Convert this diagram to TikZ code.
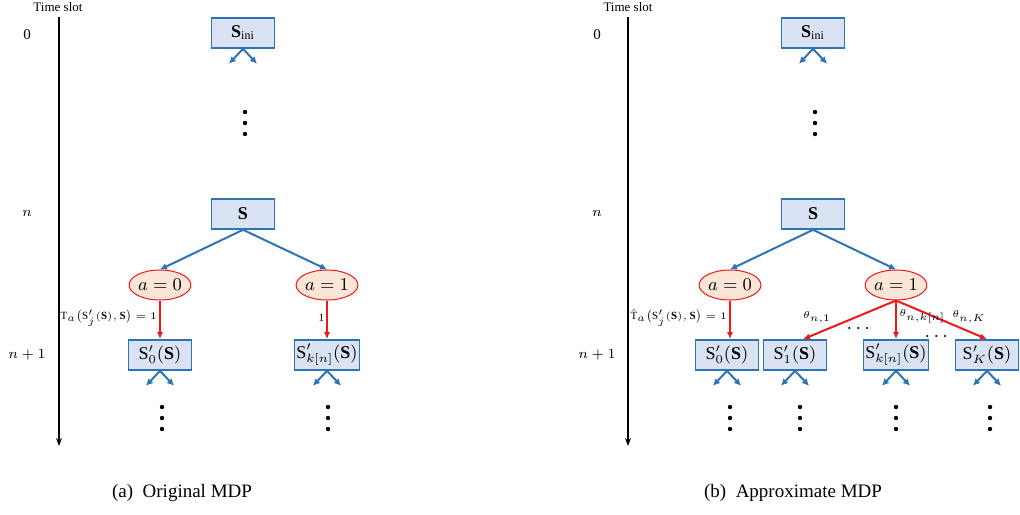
\documentclass[tikz,border=0pt]{standalone}
\usepackage{amsmath}
\usepackage{fontspec}
\setmainfont{Liberation Serif}
\usetikzlibrary{shapes.geometric,arrows.meta}

\definecolor{boxfill}{HTML}{DAE3F3}
\definecolor{boxline}{HTML}{2E75B6}
\definecolor{actfill}{HTML}{FBE5D6}
\definecolor{actred}{HTML}{F01818}

\tikzset{
    state/.style={rectangle, draw=boxline, fill=boxfill, line width=0.8pt,
        minimum width=31.5pt, minimum height=15pt, inner sep=1pt,
        font=\fontsize{9}{10}\selectfont},
    act/.style={ellipse, draw=actred, fill=actfill, line width=0.5pt,
        minimum width=30pt, minimum height=15pt, inner sep=0pt,
        font=\fontsize{9}{10}\selectfont},
    barr/.style={draw=boxline, line width=1pt, -{Latex[length=3.5pt,width=3.5pt]}},
    rarr/.style={draw=actred, line width=1pt, -{Latex[length=3.5pt,width=3pt]}},
    lbl/.style={inner sep=1pt, font=\fontsize{5.5}{6.5}\selectfont},
    slot/.style={font=\fontsize{7.5}{9}\selectfont},
    hdots/.style={inner sep=0pt, font=\fontsize{10}{11}\selectfont},
    captext/.style={font=\fontsize{9.5}{11}\selectfont}
}

% small fork under a state
\newcommand{\forkdown}[1]{%
    \draw[barr] (#1.south) -- ++(-14,15);
    \draw[barr] (#1.south) -- ++(14,15);}
% vertical dots
\newcommand{\dotcol}[2]{%
    \foreach \dy in {0,11,22} \fill (#1,#2+\dy) circle (2.2);}

\begin{document}
\begin{tikzpicture}[x=0.5pt, y=-0.5pt]
    \useasboundingbox (0,0) rectangle (1020,514);

    % ---------- (a) original MDP ----------
    \node[slot, font=\fontsize{6.5}{8}\selectfont] (tsa) at (58,7) {Time slot};
    \coordinate (axa1) at (59,17);
    \coordinate (axa2) at (59,446);
    \draw[line width=0.6pt, -{Stealth[length=4pt,width=3pt]}] (axa1) -- (axa2);
    \node[slot] (t0a) at (27,35) {0};
    \node[slot] (tna) at (27,213) {$n$};
    \node[slot] (tn1a) at (27,355) {$n+1$};

    \node[state] (inia) at (243,33) {$\mathbf{S}_{\mathrm{ini}}$};
    \forkdown{inia}
    \dotcol{245}{112}

    \node[state] (sa) at (243,214) {$\mathbf{S}$};
    \node[act] (a0a) at (160,285) {$a=0$};
    \node[act] (a1a) at (327,285) {$a=1$};
    \node[state] (s0a) at (160,355) {$\mathrm{S}'_0(\mathbf{S})$};
    \node[state] (ska) at (327,355) {$\mathrm{S}'_{k[n]}(\mathbf{S})$};

    \draw[barr] (sa.south) -- (a0a.north);
    \draw[barr] (sa.south) -- (a1a.north);
    \draw[rarr] (a0a) -- node[lbl, left, pos=0.45] {$\mathrm{T}_a\big(\mathrm{S}'_j(\mathbf{S}),\mathbf{S}\big)=1$} (s0a);
    \draw[rarr] (a1a) -- node[lbl, left, pos=0.45] {1} (ska);

    \forkdown{s0a}
    \forkdown{ska}
    \dotcol{162}{407}
    \dotcol{328}{407}

    \node[captext] (capa) at (182,493) {(a)\ \ Original MDP};

    % ---------- (b) approximate MDP ----------
    \node[slot, font=\fontsize{6.5}{8}\selectfont] (tsb) at (628,7) {Time slot};
    \coordinate (axb1) at (628,17);
    \coordinate (axb2) at (628,446);
    \draw[line width=0.6pt, -{Stealth[length=4pt,width=3pt]}] (axb1) -- (axb2);
    \node[slot] (t0b) at (597,35) {0};
    \node[slot] (tnb) at (597,213) {$n$};
    \node[slot] (tn1b) at (597,355) {$n+1$};

    \node[state] (inib) at (813,33) {$\mathbf{S}_{\mathrm{ini}}$};
    \forkdown{inib}
    \dotcol{815}{112}

    \node[state] (sb) at (813,214) {$\mathbf{S}$};
    \node[act] (a0b) at (730,285) {$a=0$};
    \node[act] (a1b) at (896,285) {$a=1$};
    \node[state] (s0b) at (727,355) {$\mathrm{S}'_0(\mathbf{S})$};
    \node[state] (s1b) at (795,355) {$\mathrm{S}'_1(\mathbf{S})$};
    \node[state] (skb) at (896,355) {$\mathrm{S}'_{k[n]}(\mathbf{S})$};
    \node[state] (sKb) at (987,355) {$\mathrm{S}'_K(\mathbf{S})$};

    \draw[barr] (sb.south) -- (a0b.north);
    \draw[barr] (sb.south) -- (a1b.north);
    \draw[rarr] (a0b) -- node[lbl, left, pos=0.45] {$\hat{\mathrm{T}}_a\big(\mathrm{S}'_j(\mathbf{S}),\mathbf{S}\big)=1$} (a0b |- s0b.north);
    \draw[rarr] (a1b.south) -- ([xshift=4]s1b.north);
    \draw[rarr] (a1b) -- (skb);
    \draw[rarr] (a1b.south) -- (sKb.north);

    \node[lbl] (th1) at (817,317) {$\theta_{n,1}$};
    \node[lbl, anchor=west] (thk) at (897,316) {$\theta_{n,k[n]}$};
    \node[lbl] (thK) at (969,317) {$\theta_{n,K}$};
    \node[hdots] (dd1) at (860,329) {$\cdots$};
    \node[hdots] (dd2) at (938,337) {$\cdots$};

    \forkdown{s0b}
    \forkdown{s1b}
    \forkdown{skb}
    \forkdown{sKb}
    \dotcol{730}{407}
    \dotcol{800}{407}
    \dotcol{896}{407}
    \dotcol{990}{407}

    \node[captext] (capb) at (793,493) {(b)\ \ Approximate MDP};
\end{tikzpicture}
\end{document}
